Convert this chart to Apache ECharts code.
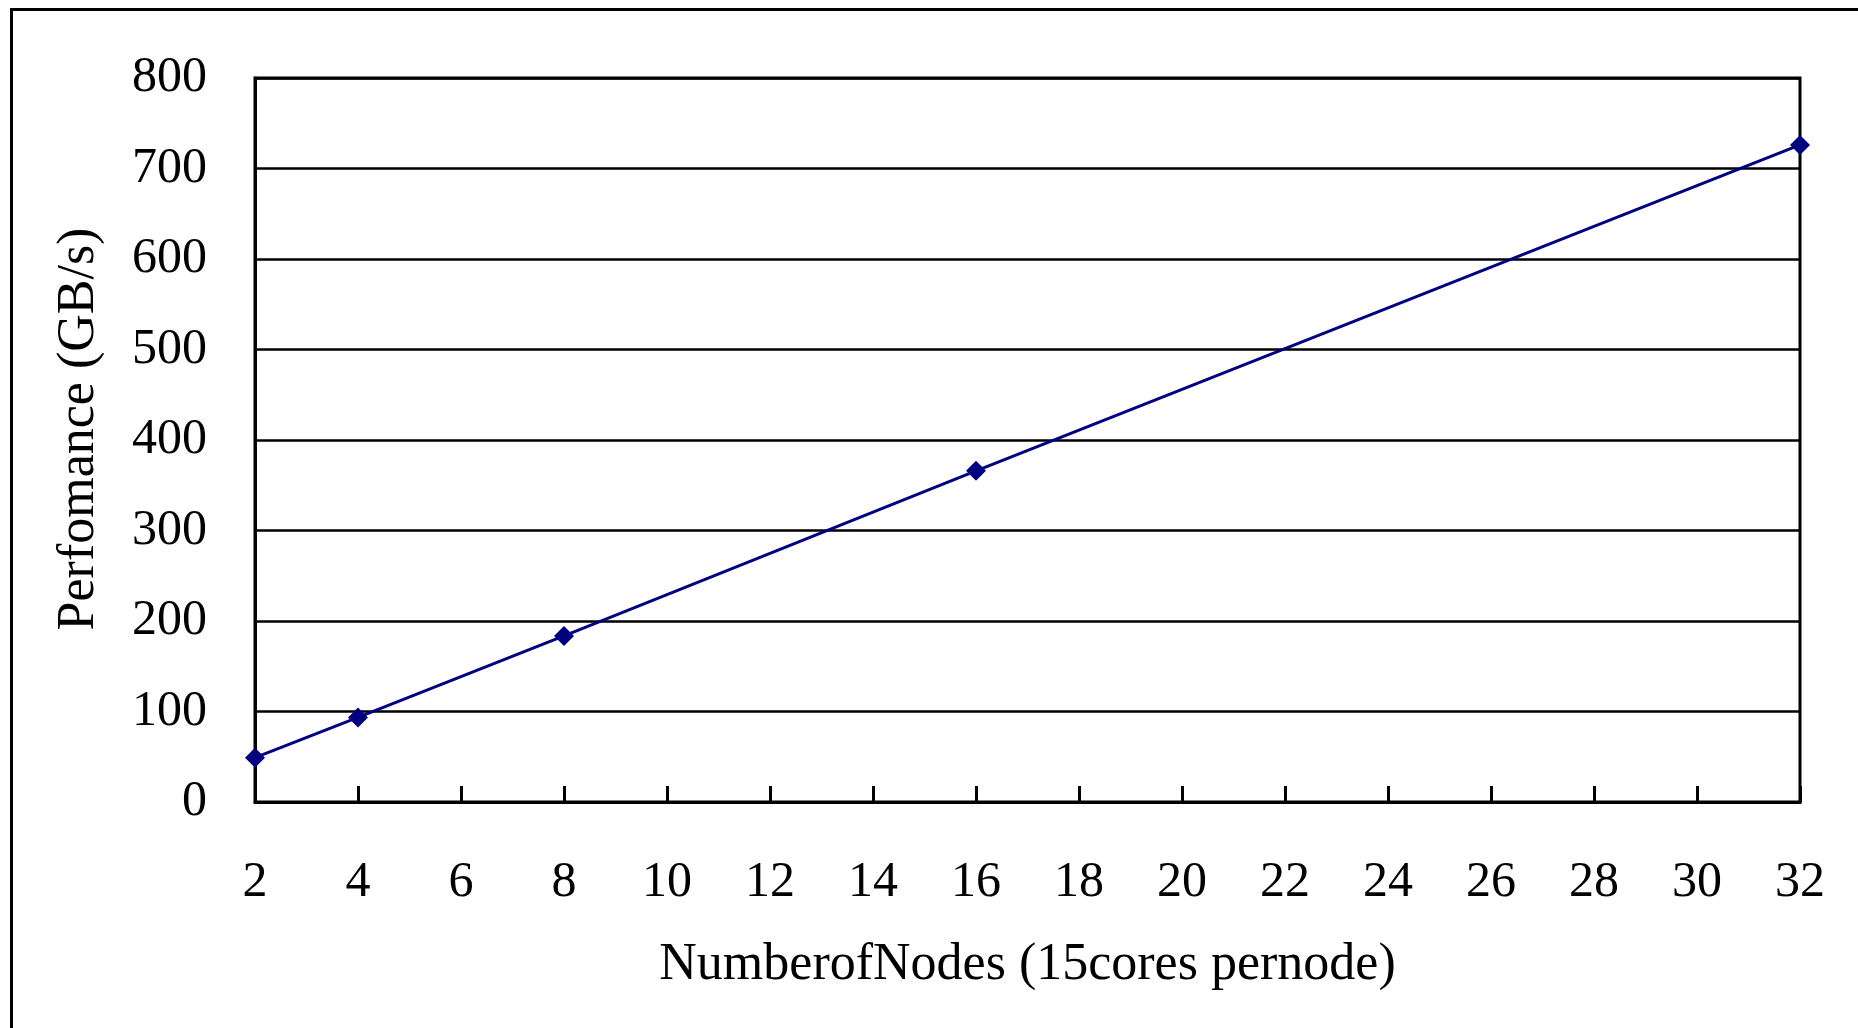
<!DOCTYPE html>
<html>
<head>
<meta charset="utf-8">
<script src="https://cdn.jsdelivr.net/npm/echarts@6/dist/echarts.min.js"></script>
<style>
html,body{margin:0;padding:0;background:#fff;}
#chart{width:1858px;height:1028px;}
</style>
</head>
<body>
<div id="chart"></div>
<script>
const nodes = [2, 4, 8, 16, 32];
const performance = [49, 93.5, 183.5, 366, 726];
const xTitle = 'NumberofNodes (15cores pernode)';
const yTitle = 'Perfomance (GB/s)';
const FONT = '"Liberation Serif", "Times New Roman", serif';

const chart = echarts.init(document.getElementById('chart'), null, {renderer: 'canvas'});
chart.setOption({
  animation: false,
  backgroundColor: '#fff',
  graphic: [{
    type: 'rect', left: 9, top: 7, silent: true,
    shape: {width: 1880, height: 1060},
    style: {fill: 'none', stroke: '#000', lineWidth: 3}
  }],
  grid: {left: 255, right: 58, top: 78, bottom: 226, show: true, borderColor: '#000', borderWidth: 3, backgroundColor: 'transparent'},
  xAxis: {
    type: 'value', min: 2, max: 32, interval: 2,
    name: xTitle, nameLocation: 'middle', nameGap: 137,
    nameTextStyle: {fontFamily: FONT, fontSize: 52, color: '#000'},
    axisLine: {show: true, lineStyle: {color: '#000', width: 3}},
    axisTick: {show: true, inside: true, length: 16, lineStyle: {color: '#000', width: 3}},
    axisLabel: {margin: 56, fontFamily: FONT, fontSize: 50, color: '#000'},
    splitLine: {show: false}
  },
  yAxis: {
    type: 'value', min: 0, max: 800, interval: 100,
    name: yTitle, nameLocation: 'middle', nameGap: 150, nameRotate: 90,
    nameTextStyle: {fontFamily: FONT, fontSize: 52, color: '#000', padding: [0, 0, 0, 22]},
    axisLine: {show: true, lineStyle: {color: '#000', width: 3}},
    axisTick: {show: false},
    axisLabel: {margin: 48, fontFamily: FONT, fontSize: 50, color: '#000'},
    splitLine: {show: true, lineStyle: {color: '#000', width: 2.5}}
  },
  series: [{
    type: 'line',
    data: nodes.map((n, i) => [n, performance[i]]),
    symbol: 'diamond', symbolSize: 20,
    lineStyle: {color: '#000080', width: 3},
    itemStyle: {color: '#000080'},
    clip: false
  }]
});
</script>
</body>
</html>
